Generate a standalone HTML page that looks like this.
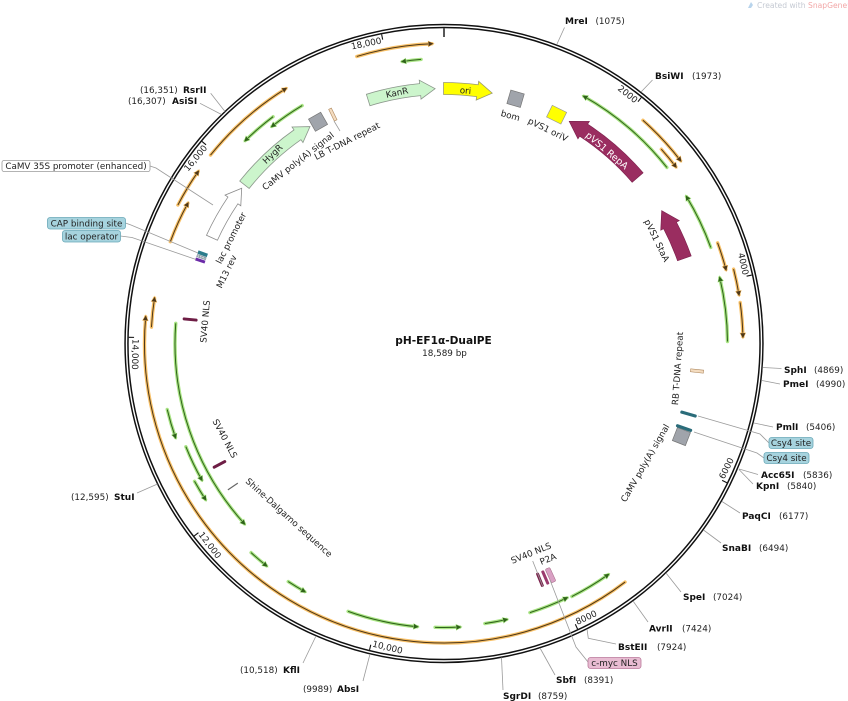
<!DOCTYPE html>
<html><head><meta charset="utf-8">
<style>
html,body{margin:0;padding:0;background:#fff;width:848px;height:701px;overflow:hidden;}
svg{display:block;font-family:"DejaVu Sans","Liberation Sans",sans-serif;}
.t{font-size:8.8px;fill:#222;}
.b{font-size:9px;font-weight:bold;fill:#111;}
.ln{stroke:#9a9a9a;stroke-width:.8;fill:none;}
.oh{fill:none;stroke:#f8c168;stroke-width:3.4;stroke-linecap:round;}
.oc{fill:none;stroke:#4d3718;stroke-width:1;}
.gh{fill:none;stroke:#a9e484;stroke-width:3.4;stroke-linecap:round;}
.gc{fill:none;stroke:#2f621a;stroke-width:1;}
.oa{fill:#4d3718;stroke:#f8c168;stroke-width:1;paint-order:stroke;}
.ga{fill:#2f621a;stroke:#a9e484;stroke-width:1;paint-order:stroke;}
.tk{stroke:#111;stroke-width:1.1;}
.tl{font-size:8.8px;fill:#222;}
</style></head><body>
<svg width="848" height="701" viewBox="0 0 848 701">
<rect width="848" height="701" fill="#fff"/>

<!-- watermark -->
<path d="M748,8 L751,2 L753,5 L751,8 Z" fill="#b8d4ec"/>
<text x="757" y="8" style="font-size:7.6px;fill:#c5cad3">Created with <tspan style="fill:#f2a7a7">SnapGene</tspan><tspan style="font-size:5px" dy="-2">®</tspan></text>

<g transform="translate(444 343.5)">
  <!-- ORANGE ORFs -->
  <g transform="rotate(253.1)"><circle class="oh" r="300" stroke-dasharray="76.45 3000"/><circle class="oc" r="300" stroke-dasharray="76.45 3000"/></g>
  <path class="oa" d="M1.5,-300 L-3.5,-302.5 L-3.5,-297.5 Z" transform="rotate(357.7)"/>
  <g transform="rotate(218.9)"><circle class="oh" r="300" stroke-dasharray="101.05 3000"/><circle class="oc" r="300" stroke-dasharray="101.05 3000"/></g>
  <path class="oa" d="M1.5,-300 L-3.5,-302.5 L-3.5,-297.5 Z" transform="rotate(328.2)"/>
  <g transform="rotate(207.5)"><circle class="oh" r="300" stroke-dasharray="39.27 3000"/><circle class="oc" r="300" stroke-dasharray="39.27 3000"/></g>
  <path class="oa" d="M1.5,-300 L-3.5,-302.5 L-3.5,-297.5 Z" transform="rotate(305)"/>
  <g transform="rotate(200.4)"><circle class="oh" r="292" stroke-dasharray="42.30 3000"/><circle class="oc" r="292" stroke-dasharray="42.30 3000"/></g>
  <path class="oa" d="M1.5,-292 L-3.5,-294.5 L-3.5,-289.5 Z" transform="rotate(298.7)"/>
  <g transform="rotate(-48.3)"><circle class="oh" r="299" stroke-dasharray="55.32 3000"/><circle class="oc" r="299" stroke-dasharray="55.32 3000"/></g>
  <path class="oa" d="M1.5,-299 L-3.5,-301.5 L-3.5,-296.5 Z" transform="rotate(52.3)"/>
  <g transform="rotate(-41.8)"><circle class="oh" r="291.5" stroke-dasharray="22.89 3000"/><circle class="oc" r="291.5" stroke-dasharray="22.89 3000"/></g>
  <path class="oa" d="M1.5,-291.5 L-3.5,-294 L-3.5,-289 Z" transform="rotate(52.7)"/>
  <g transform="rotate(-20.2)"><circle class="oh" r="291.5" stroke-dasharray="27.98 3000"/><circle class="oc" r="291.5" stroke-dasharray="27.98 3000"/></g>
  <path class="oa" d="M1.5,-291.5 L-3.5,-294 L-3.5,-289 Z" transform="rotate(75.3)"/>
  <g transform="rotate(-14.4)"><circle class="oh" r="299" stroke-dasharray="26.09 3000"/><circle class="oc" r="299" stroke-dasharray="26.09 3000"/></g>
  <path class="oa" d="M1.5,-299 L-3.5,-301.5 L-3.5,-296.5 Z" transform="rotate(80.6)"/>
  <g transform="rotate(-7.9)"><circle class="oh" r="299" stroke-dasharray="34.44 3000"/><circle class="oc" r="299" stroke-dasharray="34.44 3000"/></g>
  <path class="oa" d="M1.5,-299 L-3.5,-301.5 L-3.5,-296.5 Z" transform="rotate(88.7)"/>
  <g transform="rotate(52.8)"><circle class="oh" r="299.5" stroke-dasharray="691.57 3000"/><circle class="oc" r="299.5" stroke-dasharray="691.57 3000"/></g>
  <path class="oa" d="M1.5,-299.5 L-3.5,-302 L-3.5,-297 Z" transform="rotate(275.1)"/>
  <g transform="rotate(183.2)"><circle class="oh" r="293" stroke-dasharray="29.15 3000"/><circle class="oc" r="293" stroke-dasharray="29.15 3000"/></g>
  <path class="oa" d="M1.5,-293 L-3.5,-295.5 L-3.5,-290.5 Z" transform="rotate(278.9)"/>

  <!-- GREEN ORFs -->
  <g transform="rotate(261.6)"><circle class="gh" r="285" stroke-dasharray="18.90 3000"/><circle class="gc" r="285" stroke-dasharray="18.90 3000"/></g>
  <path class="ga" d="M-1.5,-285 L3.5,-287.5 L3.5,-282.5 Z" transform="rotate(351.6)"/>
  <g transform="rotate(231.6)"><circle class="gh" r="277" stroke-dasharray="36.74 3000"/><circle class="gc" r="277" stroke-dasharray="36.74 3000"/></g>
  <path class="ga" d="M-1.5,-277 L3.5,-279.5 L3.5,-274.5 Z" transform="rotate(321.6)"/>
  <g transform="rotate(225.6)"><circle class="gh" r="284" stroke-dasharray="36.68 3000"/><circle class="gc" r="284" stroke-dasharray="36.68 3000"/></g>
  <path class="ga" d="M-1.5,-284 L3.5,-286.5 L3.5,-281.5 Z" transform="rotate(315.6)"/>
  <g transform="rotate(-60.5)"><circle class="gh" r="284" stroke-dasharray="110.04 3000"/><circle class="gc" r="284" stroke-dasharray="110.04 3000"/></g>
  <path class="ga" d="M-1.5,-284 L3.5,-286.5 L3.5,-281.5 Z" transform="rotate(29.5)"/>
  <g transform="rotate(-31.2)"><circle class="gh" r="283.5" stroke-dasharray="56.41 3000"/><circle class="gc" r="283.5" stroke-dasharray="56.41 3000"/></g>
  <path class="ga" d="M-1.5,-283.5 L3.5,-286 L3.5,-281 Z" transform="rotate(58.8)"/>
  <g transform="rotate(-13.4)"><circle class="gh" r="283.5" stroke-dasharray="64.32 3000"/><circle class="gc" r="283.5" stroke-dasharray="64.32 3000"/></g>
  <path class="ga" d="M-1.5,-283.5 L3.5,-286 L3.5,-281 Z" transform="rotate(76.6)"/>
  <g transform="rotate(137.9)"><circle class="gh" r="269" stroke-dasharray="217.84 3000"/><circle class="gc" r="269" stroke-dasharray="217.84 3000"/></g>
  <path class="ga" d="M-1.5,-269 L3.5,-271.5 L3.5,-266.5 Z" transform="rotate(227.9)"/>
  <g transform="rotate(160.7)"><circle class="gh" r="284.5" stroke-dasharray="29.30 3000"/><circle class="gc" r="284.5" stroke-dasharray="29.30 3000"/></g>
  <path class="ga" d="M-1.5,-284.5 L3.5,-287 L3.5,-282 Z" transform="rotate(250.7)"/>
  <g transform="rotate(150.6)"><circle class="gh" r="278" stroke-dasharray="36.88 3000"/><circle class="gc" r="278" stroke-dasharray="36.88 3000"/></g>
  <path class="ga" d="M-1.5,-278 L3.5,-280.5 L3.5,-275.5 Z" transform="rotate(240.6)"/>
  <g transform="rotate(146.8)"><circle class="gh" r="285" stroke-dasharray="21.39 3000"/><circle class="gc" r="285" stroke-dasharray="21.39 3000"/></g>
  <path class="ga" d="M-1.5,-285 L3.5,-287.5 L3.5,-282.5 Z" transform="rotate(236.8)"/>
  <g transform="rotate(128.6)"><circle class="gh" r="284.5" stroke-dasharray="20.36 3000"/><circle class="gc" r="284.5" stroke-dasharray="20.36 3000"/></g>
  <path class="ga" d="M-1.5,-284.5 L3.5,-287 L3.5,-282 Z" transform="rotate(218.6)"/>
  <g transform="rotate(119.3)"><circle class="gh" r="284.5" stroke-dasharray="19.37 3000"/><circle class="gc" r="284.5" stroke-dasharray="19.37 3000"/></g>
  <path class="ga" d="M-1.5,-284.5 L3.5,-287 L3.5,-282 Z" transform="rotate(209.3)"/>
  <g transform="rotate(95.4)"><circle class="gh" r="284.5" stroke-dasharray="71.01 3000"/><circle class="gc" r="284.5" stroke-dasharray="71.01 3000"/></g>
  <path class="ga" d="M-1.5,-284.5 L3.5,-287 L3.5,-282 Z" transform="rotate(185.4)"/>
  <g transform="rotate(86.8)"><circle class="gh" r="284" stroke-dasharray="24.78 3000"/><circle class="gc" r="284" stroke-dasharray="24.78 3000"/></g>
  <path class="ga" d="M-1.5,-284 L3.5,-286.5 L3.5,-281.5 Z" transform="rotate(176.8)"/>
  <g transform="rotate(77.2)"><circle class="gh" r="283" stroke-dasharray="22.23 3000"/><circle class="gc" r="283" stroke-dasharray="22.23 3000"/></g>
  <path class="ga" d="M-1.5,-283 L3.5,-285.5 L3.5,-280.5 Z" transform="rotate(167.2)"/>
  <g transform="rotate(64.2)"><circle class="gh" r="282.5" stroke-dasharray="39.94 3000"/><circle class="gc" r="282.5" stroke-dasharray="39.94 3000"/></g>
  <path class="ga" d="M-1.5,-282.5 L3.5,-285 L3.5,-280 Z" transform="rotate(154.2)"/>
  <g transform="rotate(54.6)"><circle class="gh" r="283.5" stroke-dasharray="42.55 3000"/><circle class="gc" r="283.5" stroke-dasharray="42.55 3000"/></g>
  <path class="ga" d="M-1.5,-283.5 L3.5,-286 L3.5,-281 Z" transform="rotate(144.6)"/>

  <!-- BIG FEATURE ARROWS -->
  <path d="M-68.87,-251.75 A261,261 0 0 1 -15.34,-260.55 L-15.55,-264.04 L0,-255 L-14.43,-245.08 L-14.64,-248.57 A249,249 0 0 0 -65.70,-240.18 Z" fill="#ccf5cc" stroke="#8b978b" stroke-width=".8" transform="rotate(358)"/>
  <path d="M-49.80,-256.21 A261,261 0 0 1 -15.34,-260.55 L-15.55,-264.04 L0,-255 L-14.43,-245.08 L-14.64,-248.57 A249,249 0 0 0 -47.51,-244.43 Z" fill="#ffff00" stroke="#9a9a70" stroke-width=".8" transform="rotate(10.9)"/>
  <path d="M-88.41,-245.57 A261,261 0 0 1 -15.34,-260.55 L-15.55,-264.04 L0,-255 L-14.43,-245.08 L-14.64,-248.57 A249,249 0 0 0 -84.35,-234.28 Z" fill="#ccf5cc" stroke="#8b978b" stroke-width=".8" transform="rotate(328.3)"/>
  <path d="M-58.71,-254.31 A261,261 0 0 1 -15.34,-260.55 L-15.55,-264.04 L0,-255 L-14.43,-245.08 L-14.64,-248.57 A249,249 0 0 0 -56.01,-242.62 Z" fill="#fff" stroke="#8a8a8a" stroke-width=".8" transform="rotate(307.5)"/>
  <path d="M-89.70,-246.43 A262.25,262.25 0 0 1 -17.47,-261.67 L-17.69,-264.91 L0,-255 L-16.29,-243.96 L-16.50,-247.20 A247.75,247.75 0 0 0 -84.74,-232.81 Z" fill="#9a2d60" stroke="#7a1e4a" stroke-width=".6" transform="rotate(29.4) scale(-1,1)"/>
  <path d="M-54.08,-256.61 A262.25,262.25 0 0 1 -17.47,-261.67 L-17.69,-264.91 L0,-255 L-16.29,-243.96 L-16.50,-247.20 A247.75,247.75 0 0 0 -51.09,-242.43 Z" fill="#9a2d60" stroke="#7a1e4a" stroke-width=".6" transform="rotate(58.6) scale(-1,1)"/>

  <!-- squares -->
  <rect x="-7" y="-262" width="14" height="14" fill="#a0a4ab" stroke="#777" stroke-width=".7" transform="rotate(16.3)"/>
  <rect x="-8" y="-261.5" width="16" height="13" fill="#ffff00" stroke="#999" stroke-width=".7" transform="rotate(26.2)"/>
  <rect x="-7" y="-262" width="14" height="14" fill="#a0a4ab" stroke="#777" stroke-width=".7" transform="rotate(330.4)"/>
  <rect x="-7" y="-262" width="14" height="14" fill="#a0a4ab" stroke="#777" stroke-width=".7" transform="rotate(111.4)"/>

  <!-- thin bars -->
  <rect x="-1.5" y="-261" width="3" height="13" fill="#f4dcc0" stroke="#b08a60" stroke-width=".6" transform="rotate(334.1)"/>
  <rect x="-1.5" y="-261" width="3" height="13" fill="#f4dcc0" stroke="#b08a60" stroke-width=".6" transform="rotate(96.2)"/>
  <rect x="-1.6" y="-263" width="3.2" height="17" rx="1.5" fill="#2a6c7a" transform="rotate(106.1)"/>
  <rect x="-1.6" y="-263" width="3.2" height="17" rx="1.5" fill="#2a6c7a" transform="rotate(109.4)"/>
  <rect x="-1.5" y="-262.5" width="3" height="15" rx="1.5" fill="#6e1d45" transform="rotate(275.4)"/>
  <rect x="-1.5" y="-262.5" width="3" height="15" rx="1.5" fill="#6e1d45" transform="rotate(241.7)"/>
  <line x1="0" y1="-261" x2="0" y2="-249" stroke="#666" stroke-width="1.2" transform="rotate(235.9)"/>
  <rect x="-1.5" y="-262.5" width="3" height="15" rx="1.2" fill="#7b1f4b" transform="rotate(157.9)"/>
  <rect x="-1.5" y="-262.5" width="3" height="15" rx="1.2" fill="#9b3a6e" transform="rotate(156.6)"/>
  <rect x="-2.5" y="-262.5" width="5" height="15" rx="1.5" fill="#d9a0c4" stroke="#a0607f" stroke-width=".5" transform="rotate(155.3)"/>
  <rect x="-1.8" y="-262.5" width="3.6" height="10" fill="#2b7c8c" transform="rotate(290.4)"/>
  <rect x="-1.5" y="-262.5" width="3" height="10" fill="#8fa0a8" transform="rotate(289.6)"/>
  <line x1="0" y1="-261.5" x2="0" y2="-253.5" stroke="#fff" stroke-width=".8" stroke-dasharray="1.5 1" transform="rotate(289.6)"/>
  <rect x="-1.5" y="-262.5" width="3" height="10" fill="#6b2ba8" transform="rotate(288.8)"/>

  <!-- RING -->
  <circle r="317.5" fill="none" stroke="#111" stroke-width="4.4"/>
  <circle r="317.5" fill="none" stroke="#fff" stroke-width="1.4"/>
  <line class="tk" x1="0" y1="-315.3" x2="0" y2="-306.5" style="stroke-width:1.4"/>
  <line class="tk" x1="0" y1="-315.3" x2="0" y2="-310" transform="rotate(38.73)"/>
  <line class="tk" x1="0" y1="-315.3" x2="0" y2="-310" transform="rotate(77.46)"/>
  <line class="tk" x1="0" y1="-315.3" x2="0" y2="-310" transform="rotate(116.20)"/>
  <line class="tk" x1="0" y1="-315.3" x2="0" y2="-310" transform="rotate(154.93)"/>
  <line class="tk" x1="0" y1="-315.3" x2="0" y2="-310" transform="rotate(193.66)"/>
  <line class="tk" x1="0" y1="-315.3" x2="0" y2="-310" transform="rotate(232.39)"/>
  <line class="tk" x1="0" y1="-315.3" x2="0" y2="-310" transform="rotate(271.13)"/>
  <line class="tk" x1="0" y1="-315.3" x2="0" y2="-310" transform="rotate(309.86)"/>
  <line class="tk" x1="0" y1="-315.3" x2="0" y2="-310" transform="rotate(348.59)"/>

  <!-- tick labels -->
  <text class="tl" text-anchor="end" transform="rotate(38.73) translate(-1.5,-306.5)">2000</text>
  <text class="tl" text-anchor="end" transform="rotate(77.46) translate(-1.5,-306.5)">4000</text>
  <text class="tl" text-anchor="start" transform="rotate(116.20) translate(-1.5,-311.5) rotate(180)">6000</text>
  <text class="tl" text-anchor="start" transform="rotate(154.93) translate(-1.5,-311.5) rotate(180)">8000</text>
  <text class="tl" text-anchor="start" transform="rotate(193.66) translate(-1.5,-311.5) rotate(180)">10,000</text>
  <text class="tl" text-anchor="start" transform="rotate(232.39) translate(-1.5,-311.5) rotate(180)">12,000</text>
  <text class="tl" text-anchor="start" transform="rotate(271.13) translate(-1.5,-311.5) rotate(180)">14,000</text>
  <text class="tl" text-anchor="end" transform="rotate(309.86) translate(-1.5,-306.5)">16,000</text>
  <text class="tl" text-anchor="end" transform="rotate(348.59) translate(-1.5,-306.5)">18,000</text>
</g>

<!-- inner feature labels -->
<g class="t" text-anchor="middle">
<text x="397" y="92.5" dy="3.1" transform="rotate(-12 397 92.5)">KanR</text>
<text x="465.5" y="90.5" dy="3.1" transform="rotate(4 465.5 90.5)">ori</text>
<text x="510.5" y="115.5" dy="3.1" transform="rotate(16 510.5 115.5)">bom</text>
<text x="548" y="129.5" dy="3.1" transform="rotate(26 548 129.5)">pVS1 oriV</text>
<text x="607" y="150.5" dy="3.3" transform="rotate(40 607 150.5)" style="fill:#fff;font-size:9.5px">pVS1 RepA</text>
<text x="657" y="240.5" dy="3.1" transform="rotate(64 657 240.5)">pVS1 StaA</text>
<text x="272.5" y="154" dy="3.1" transform="rotate(-44 272.5 154)">HygR</text>
<text x="298" y="161" dy="3.1" transform="rotate(-38 298 161)">CaMV poly(A) signal</text>
<text x="347" y="141" dy="3.1" transform="rotate(-27 347 141)">LB T-DNA repeat</text>
<text x="231" y="238" dy="3.1" transform="rotate(-63 231 238)">lac promoter</text>
<text x="226.5" y="271.5" dy="3.1" transform="rotate(-64 226.5 271.5)">M13 rev</text>
<text x="205" y="321.5" dy="3.1" transform="rotate(-85 205 321.5)">SV40 NLS</text>
<text x="225" y="438.5" dy="3.1" transform="rotate(62 225 438.5)">SV40 NLS</text>
<text x="289" y="517.5" dy="3.1" transform="rotate(42 289 517.5)">Shine-Dalgarno sequence</text>
<text x="531" y="553" dy="3.1" transform="rotate(-22 531 553)">SV40 NLS</text>
<text x="548" y="559" dy="3.1" transform="rotate(-22 548 559)">P2A</text>
<text x="677.5" y="368.5" dy="3.1" transform="rotate(-86 677.5 368.5)">RB T-DNA repeat</text>
<text x="645" y="463" dy="3.1" transform="rotate(-60 645 463)">CaMV poly(A) signal</text>
</g>

<!-- title -->
<text x="443.5" y="344" text-anchor="middle" style="font-size:10.6px;font-weight:bold;fill:#111">pH-EF1α-DualPE</text>
<text x="444.5" y="356" text-anchor="middle" class="t">18,589 bp</text>

<!-- leader lines -->
<g class="ln">
<line x1="557" y1="44" x2="564.5" y2="27.5"/>
<line x1="641" y1="92" x2="652.5" y2="80"/>
<line x1="763" y1="367.5" x2="781.5" y2="368.5"/>
<line x1="762" y1="380.5" x2="780" y2="384"/>
<line x1="754" y1="423" x2="773" y2="427"/>
<line x1="739" y1="469" x2="758" y2="474.5"/>
<line x1="739" y1="469.5" x2="753" y2="484"/>
<line x1="722" y1="501.5" x2="740" y2="513"/>
<line x1="703.5" y1="530" x2="721" y2="543"/>
<line x1="666" y1="573" x2="681" y2="592"/>
<line x1="633" y1="601" x2="648" y2="622"/>
<polyline points="587,629 588.3,638.3 616,644"/>
<line x1="540" y1="648" x2="555" y2="675"/>
<line x1="501.5" y1="657.5" x2="503" y2="690"/>
<line x1="370" y1="654" x2="363" y2="681"/>
<line x1="316" y1="636" x2="303" y2="663"/>
<line x1="157.5" y1="484" x2="137" y2="493"/>
<line x1="221.5" y1="114.5" x2="200" y2="103.3"/>
<line x1="225" y1="111.5" x2="210.7" y2="93.3"/>
<polyline points="150,166 156,168 213,205"/>
<polyline points="125.5,223 131,225 198,253"/>
<polyline points="120.5,236 132,237.5 196,259.5"/>
<polyline points="769,443 760,434 698,416"/>
<polyline points="764,458 757,453 694,432"/>
<polyline points="588,662 576,647 550,580"/>
<line x1="532.7" y1="561" x2="543" y2="587"/>
<line x1="334" y1="121" x2="340" y2="131"/>
</g>

<!-- restriction sites -->
<text class="b" x="565" y="24.2">MreI</text><text class="t" x="595.5" y="24.2">(1075)</text>
<text class="b" x="655" y="79">BsiWI</text><text class="t" x="692" y="79">(1973)</text>
<text class="b" x="784" y="373">SphI</text><text class="t" x="814" y="373">(4869)</text>
<text class="b" x="783" y="387">PmeI</text><text class="t" x="816" y="387">(4990)</text>
<text class="b" x="776" y="430">PmlI</text><text class="t" x="806" y="430">(5406)</text>
<text class="b" x="761" y="478">Acc65I</text><text class="t" x="803" y="478">(5836)</text>
<text class="b" x="756" y="489">KpnI</text><text class="t" x="787" y="489">(5840)</text>
<text class="b" x="742" y="519">PaqCI</text><text class="t" x="779" y="519">(6177)</text>
<text class="b" x="722" y="551">SnaBI</text><text class="t" x="759" y="551">(6494)</text>
<text class="b" x="683" y="600">SpeI</text><text class="t" x="713" y="600">(7024)</text>
<text class="b" x="649" y="631.5">AvrII</text><text class="t" x="682" y="631.5">(7424)</text>
<text class="b" x="618" y="650">BstEII</text><text class="t" x="657" y="650">(7924)</text>
<text class="b" x="556" y="683">SbfI</text><text class="t" x="584" y="683">(8391)</text>
<text class="b" x="503" y="699">SgrDI</text><text class="t" x="538" y="699">(8759)</text>
<text class="t" x="140" y="93">(16,351)</text><text class="b" x="183" y="93">RsrII</text>
<text class="t" x="128" y="104">(16,307)</text><text class="b" x="172" y="104">AsiSI</text>
<text class="t" x="71" y="500">(12,595)</text><text class="b" x="114" y="500">StuI</text>
<text class="t" x="240" y="673">(10,518)</text><text class="b" x="283" y="673">KflI</text>
<text class="t" x="303" y="692">(9989)</text><text class="b" x="337" y="692">AbsI</text>

<!-- label boxes -->
<rect x="2" y="160.5" width="148" height="11" rx="2" fill="#fff" stroke="#9a9a9a" stroke-width=".8"/>
<text class="t" x="76" y="169.2" text-anchor="middle">CaMV 35S promoter (enhanced)</text>
<rect x="47.5" y="217.5" width="78" height="11.5" rx="2.5" fill="#a6d3de" stroke="#6aa9b8" stroke-width=".8"/>
<text class="t" x="86.5" y="226.5" text-anchor="middle">CAP binding site</text>
<rect x="62.5" y="230.5" width="58" height="11.5" rx="2.5" fill="#a6d3de" stroke="#6aa9b8" stroke-width=".8"/>
<text class="t" x="91.5" y="239.5" text-anchor="middle">lac operator</text>
<rect x="769" y="437.5" width="44" height="11" rx="2.5" fill="#a6d3de" stroke="#6aa9b8" stroke-width=".8"/>
<text class="t" x="791" y="446.2" text-anchor="middle">Csy4 site</text>
<rect x="764" y="452.5" width="45" height="11" rx="2.5" fill="#a6d3de" stroke="#6aa9b8" stroke-width=".8"/>
<text class="t" x="786.5" y="461.2" text-anchor="middle">Csy4 site</text>
<rect x="588" y="657.5" width="53" height="11" rx="2.5" fill="#e8bcd2" stroke="#b9789a" stroke-width=".8"/>
<text class="t" x="614.5" y="666.2" text-anchor="middle">c-myc NLS</text>
</svg>
</body></html>
